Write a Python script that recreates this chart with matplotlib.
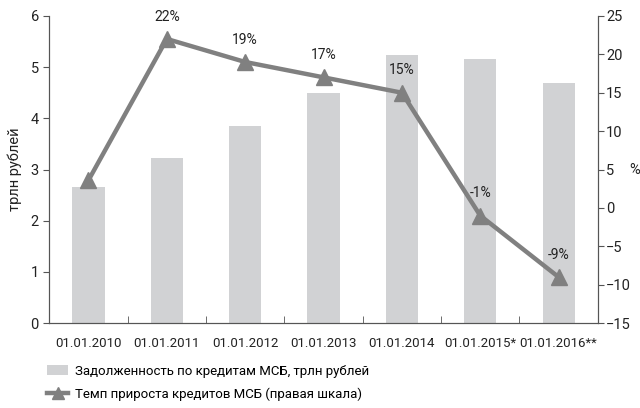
import matplotlib
matplotlib.use('Agg')
import matplotlib.pyplot as plt
from matplotlib.patches import Patch
from matplotlib.lines import Line2D

plt.rcParams['font.family'] = ['Roboto', 'DejaVu Sans']

dates = ['01.01.2010', '01.01.2011', '01.01.2012', '01.01.2013',
         '01.01.2014', '01.01.2015*', '01.01.2016**']
debt = [2.65, 3.23, 3.85, 4.49, 5.23, 5.16, 4.69]
growth = [3.6, 22, 19, 17, 15, -1, -9]
growth_labels = ['', '22%', '19%', '17%', '15%', '-1%', '-9%']

bar_color = '#d1d2d4'
line_color = '#808080'
axis_color = '#555555'
txt = '#222222'

fig = plt.figure(figsize=(6.4, 4.08), dpi=100)
ax = fig.add_axes([0.077, 0.208, 0.857, 0.753])
x = list(range(len(dates)))
ax.bar(x, debt, width=0.41, color=bar_color, zorder=1)
ax.set_xlim(-0.5, len(dates) - 0.5)
ax.set_ylim(0, 6)
ax.set_yticks(range(7))
ax.set_ylabel('трлн рублей', fontsize=10.5, color=txt, labelpad=6)
ax.set_xticks(x)
ax.set_xticklabels(dates, fontsize=9.5, color=txt)
ax.tick_params(axis='x', length=0, pad=10)
ax.set_xticks([i + 0.5 for i in x[:-1]], minor=True)
ax.tick_params(axis='x', which='minor', direction='in', length=5, color=axis_color)
ax.tick_params(axis='y', direction='out', length=4, color=axis_color, labelsize=10.5, labelcolor=txt)
for s in ['left', 'bottom', 'right']:
    ax.spines[s].set_color(axis_color)
ax.spines['top'].set_visible(False)

ax2 = ax.twinx()
ax2.plot(x, growth, color=line_color, lw=3.2, marker='^', markersize=12, zorder=3)
ax2.set_ylim(-15, 25)
ax2.set_yticks(range(-15, 26, 5))
ax2.tick_params(axis='y', direction='out', length=4, color=axis_color, labelsize=10.5, labelcolor=txt, pad=2)
for s in ['left', 'bottom', 'right']:
    ax2.spines[s].set_color(axis_color)
ax2.spines['top'].set_visible(False)
ax2.text(1.058, 0.5, '%', transform=ax2.transAxes, fontsize=10.5, color=txt, va='center', ha='left')

for xi, g, lab in zip(x, growth, growth_labels):
    if lab:
        ax2.annotate(lab, (xi, g), xytext=(0, 11), textcoords='offset points',
                     ha='center', va='bottom', fontsize=10, color=txt)

handles = [Patch(facecolor=bar_color, edgecolor='none'),
           Line2D([0], [0], color=line_color, lw=3.2, marker='^', markersize=9)]
labels = ['Задолженность по кредитам МСБ, трлн рублей',
          'Темп прироста кредитов МСБ (правая шкала)']
fig.legend(handles, labels, loc='lower left', bbox_to_anchor=(0.055, -0.012),
           frameon=False, fontsize=9.5, handlelength=1.6, labelspacing=0.75, handletextpad=0.5)

fig.savefig('out.png', dpi=100)
